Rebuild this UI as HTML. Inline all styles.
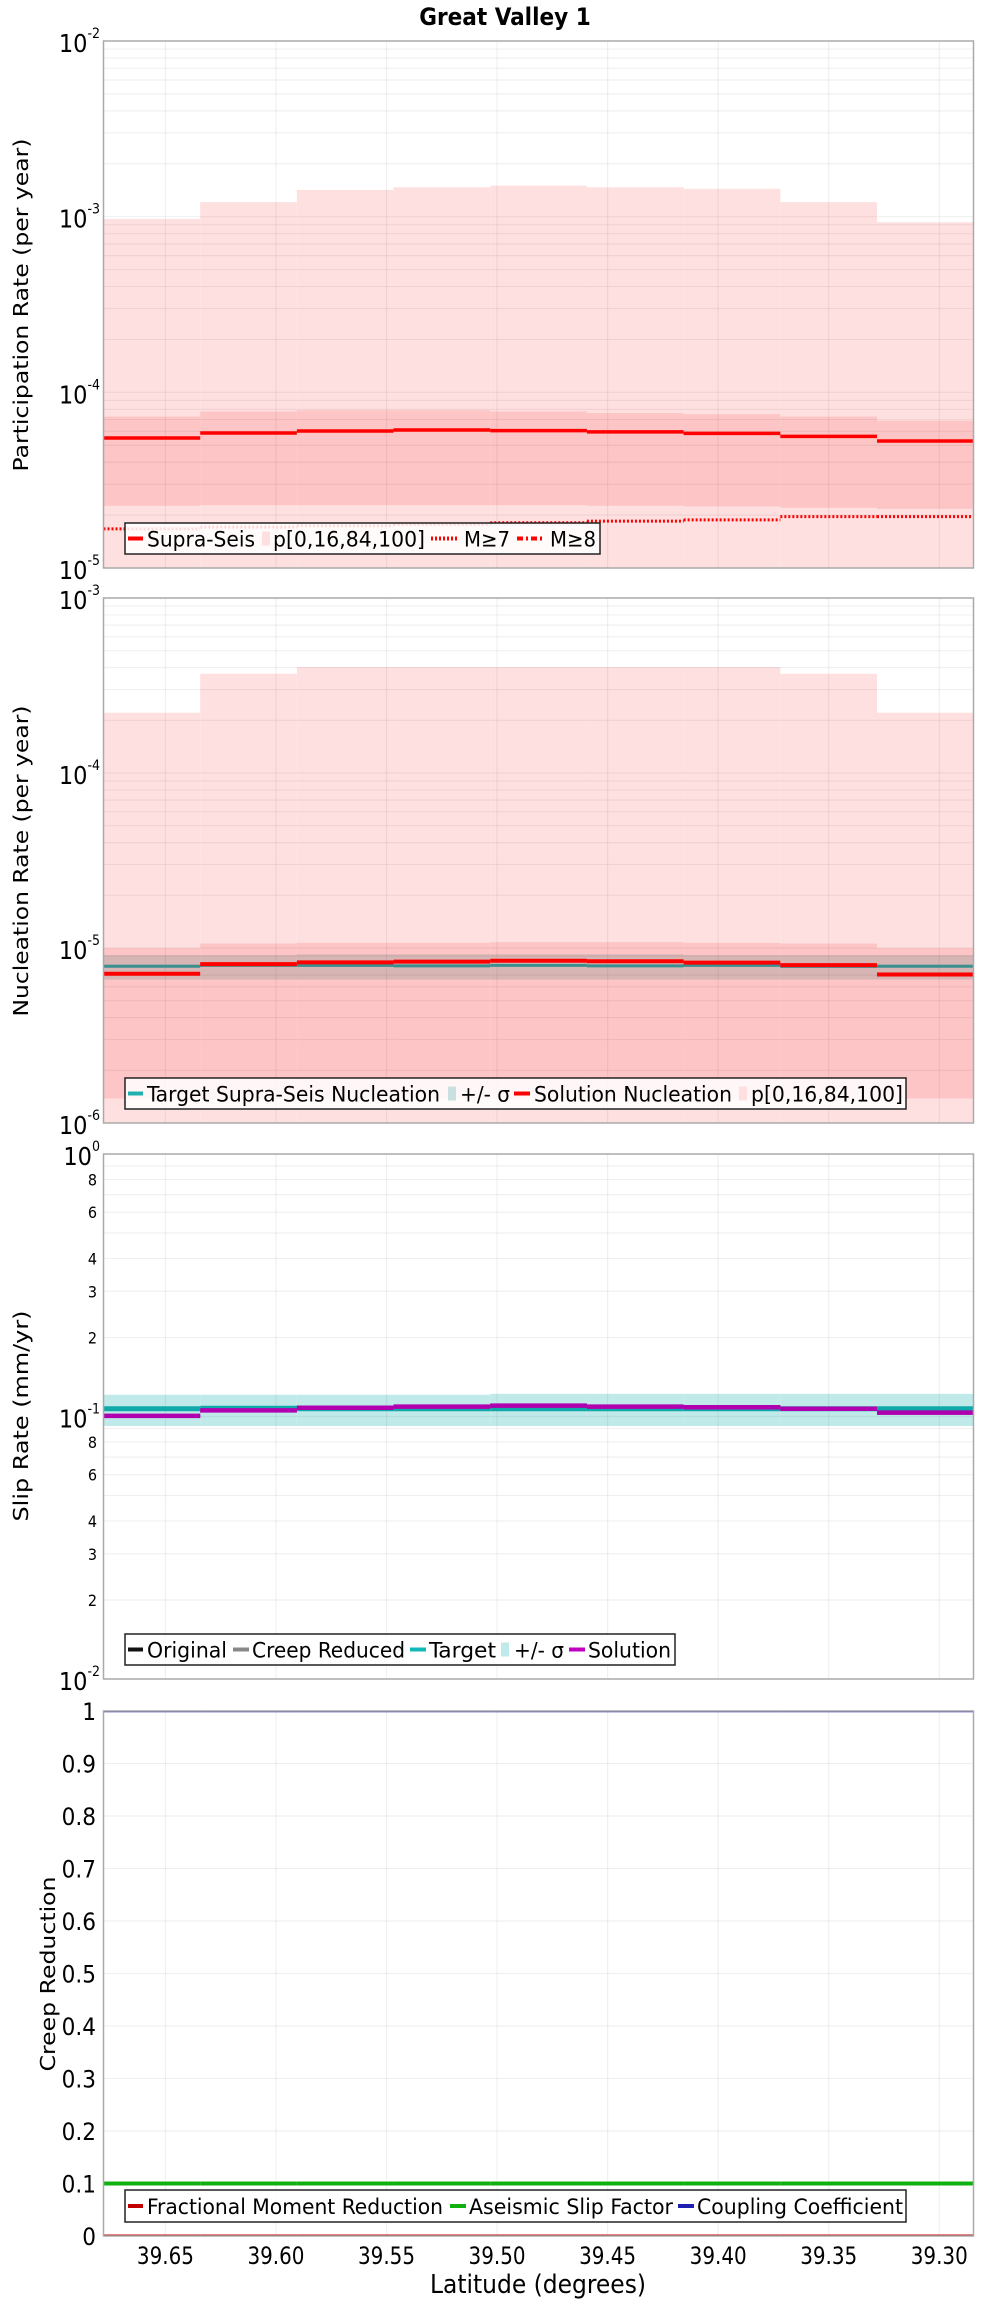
<!DOCTYPE html>
<html><head><meta charset="utf-8"><style>
html,body{margin:0;padding:0;background:#fff;}
svg{display:block;}
text{font-family:"DejaVu Sans Condensed","DejaVu Sans","Liberation Sans",sans-serif;fill:#000;}
.yt{font-family:"DejaVu Sans","Liberation Sans",sans-serif;font-size:20px;}
</style></head><body>
<svg id="chart" width="1000" height="2300" viewBox="0 0 1000 2300" xmlns="http://www.w3.org/2000/svg">
<text x="505" y="25" text-anchor="middle" font-size="24" font-weight="bold">Great Valley 1</text>
</svg>
<script>
// ---- data ----
const binStartLat = 39.678;
const binWidthLat = 0.04373;
const xTicks = [39.65, 39.60, 39.55, 39.50, 39.45, 39.40, 39.35, 39.30];
const xTickLabels = ["39.65","39.60","39.55","39.50","39.45","39.40","39.35","39.30"];
// panel 1 participation
const partMax = [9.7e-4,1.21e-3,1.42e-3,1.47e-3,1.50e-3,1.47e-3,1.44e-3,1.21e-3,9.3e-4];
const partP84 = [7.28e-5,7.78e-5,7.9e-5,7.9e-5,7.78e-5,7.62e-5,7.51e-5,7.28e-5,6.89e-5];
const partP16 = [2.26e-5,2.28e-5,2.28e-5,2.28e-5,2.28e-5,2.26e-5,2.24e-5,2.2e-5,2.17e-5];
const partMin = [5e-6,5e-6,5e-6,5e-6,5e-6,5e-6,5e-6,5e-6,5e-6];
const partSupra = [5.5e-5,5.87e-5,6.02e-5,6.1e-5,6.05e-5,5.96e-5,5.84e-5,5.61e-5,5.28e-5];
const partM7 = [1.67e-5,1.71e-5,1.74e-5,1.77e-5,1.81e-5,1.85e-5,1.88e-5,1.96e-5,1.96e-5];
const partM8 = [3e-6,3e-6,3e-6,3e-6,3e-6,3e-6,3e-6,3e-6,3e-6];
// panel 2 nucleation
const nucMax = [2.21e-4,3.69e-4,4.03e-4,4.03e-4,4.03e-4,4.03e-4,4.03e-4,3.69e-4,2.21e-4];
const nucP84 = [1.0e-5,1.06e-5,1.07e-5,1.07e-5,1.08e-5,1.08e-5,1.07e-5,1.06e-5,1.0e-5];
const nucP16 = [1.38e-6,1.38e-6,1.38e-6,1.38e-6,1.38e-6,1.38e-6,1.38e-6,1.38e-6,1.38e-6];
const nucMin = [5e-7,5e-7,5e-7,5e-7,5e-7,5e-7,5e-7,5e-7,5e-7];
const nucTarget = [7.87e-6,7.95e-6,7.95e-6,7.9e-6,7.95e-6,7.9e-6,7.95e-6,7.85e-6,7.87e-6];
const nucSigHi = [9.1e-6,9.1e-6,9.2e-6,9.2e-6,9.2e-6,9.2e-6,9.1e-6,9.1e-6,9.1e-6];
const nucSigLo = [6.6e-6,6.6e-6,6.6e-6,6.6e-6,6.6e-6,6.6e-6,6.6e-6,6.6e-6,6.6e-6];
const nucSolution = [7.13e-6,8.09e-6,8.28e-6,8.36e-6,8.45e-6,8.4e-6,8.25e-6,7.98e-6,7.06e-6];
// panel 3 slip rate
const slipTarget = [0.107,0.1075,0.107,0.107,0.107,0.107,0.107,0.107,0.107];
const slipSigHi = [0.121,0.121,0.121,0.121,0.122,0.122,0.122,0.122,0.122];
const slipSigLo = [0.092,0.092,0.092,0.092,0.092,0.092,0.092,0.092,0.092];
const slipOriginal = [0.1006,0.1055,0.108,0.109,0.110,0.109,0.1085,0.107,0.1035];
const slipCreep = [0.1006,0.1055,0.108,0.109,0.110,0.109,0.1085,0.107,0.1035];
const slipSolution = [0.1006,0.1055,0.108,0.109,0.110,0.109,0.1085,0.107,0.1035];
// panel 4 creep
const creepFrac = [0,0,0,0,0,0,0,0,0];
const creepAseis = [0.1,0.1,0.1,0.1,0.1,0.1,0.1,0.1,0.1];
const creepCoupling = [1,1,1,1,1,1,1,1,1];

// ---- layout ----
const svg = document.getElementById('chart');
const NS = 'http://www.w3.org/2000/svg';
const L = 103.5, R = 973.5;
const pxPerDeg = 2211;
function xs(lat){ return L + (binStartLat - lat) * pxPerDeg; }
function el(tag, attrs, parent){ const e = document.createElementNS(NS, tag); for (const k in attrs) e.setAttribute(k, attrs[k]); (parent||svg).appendChild(e); return e; }
function logScale(top, bottom, lo, hi){ return v => bottom - (Math.log10(v) - lo) / (hi - lo) * (bottom - top); }
function linScale(top, bottom, lo, hi){ return v => bottom - (v - lo) / (hi - lo) * (bottom - top); }

const panels = [
  {key:'participation', top:41, bottom:568, lo:-5, hi:-2, log:true},
  {key:'nucleation', top:598, bottom:1123, lo:-6, hi:-3, log:true},
  {key:'slip', top:1154, bottom:1679, lo:-2, hi:0, log:true},
  {key:'creep', top:1711, bottom:2236, lo:0, hi:1, log:false}
];
panels.forEach(p => { p.y = p.log ? logScale(p.top,p.bottom,p.lo,p.hi) : linScale(p.top,p.bottom,p.lo,p.hi); });

function binX(i){ return [xs(binStartLat - i*binWidthLat), xs(binStartLat - (i+1)*binWidthLat)]; }

function panelGroup(p){
  const g = el('g', {});
  
  
  const cp = el('clipPath', {id:'clip-'+p.key}, g);
  el('rect', {x:L, y:p.top, width:R-L, height:p.bottom-p.top}, cp);
  el('rect', {x:L, y:p.top, width:R-L, height:p.bottom-p.top, fill:'#fff'}, g);
  const plot = el('g', {'clip-path':'url(#clip-'+p.key+')'}, g);
  p.g = g; p.plot = plot;
  return g;
}
function band(p, lo, hi, fill, name){
  for (let i=0;i<lo.length;i++){
    const [x0,x1] = binX(i);
    const y0 = p.y(hi[i]), y1 = p.y(lo[i]);
    const r = el('rect', {x:x0, y:y0, width:x1-x0, height:y1-y0, fill:fill}, p.plot);
    
    
  }
}
function steps(p, vals, color, w, dash, name){
  for (let i=0;i<vals.length;i++){
    const [x0,x1] = binX(i);
    const yv = p.y(vals[i]);
    const ln = el('line', {x1:x0, x2:x1, y1:yv, y2:yv, stroke:color, 'stroke-width':w}, p.plot);
    if (dash) ln.setAttribute('stroke-dasharray', dash);
    
    
  }
}
function grid(p){
  const gg = el('g', {}, p.plot);
  if (p.log){
    for (let d=p.lo; d<p.hi; d++) for (let m=1;m<=9;m++){
      const yy = p.y(m*Math.pow(10,d));
      el('line', {x1:L, x2:R, y1:yy, y2:yy, stroke:'rgba(0,0,0,0.06)', 'stroke-width':1.2}, gg);
    }
  } else {
    for (let k=1;k<10;k++){ const yy = p.y(k/10); el('line', {x1:L, x2:R, y1:yy, y2:yy, stroke:'rgba(0,0,0,0.06)', 'stroke-width':1.2}, gg); }
  }
  xTicks.forEach(t => { const xx = xs(t); el('line', {x1:xx, x2:xx, y1:p.top, y2:p.bottom, stroke:'rgba(0,0,0,0.06)', 'stroke-width':1.2}, gg); });
}
function frame(p){
  el('rect', {x:L, y:p.top, width:R-L, height:p.bottom-p.top, fill:'none', stroke:'#aaa', 'stroke-width':1.5}, p.g);
}
function decadeLabels(p){
  for (let d=p.lo; d<=p.hi; d++){
    const yy = p.y(Math.pow(10,d));
    const t = el('text', {x:100, y:yy+11, 'text-anchor':'end', 'font-size':25}, p.g);
    
    
    t.appendChild(document.createTextNode('10'));
    const s = el('tspan', {dy:-14, 'font-size':14}, t); s.textContent = String(d);
  }
}
function yTitle(p, txt, cx, cy, len){
  const t = el('text', {class:'yt', x:0, y:0, 'text-anchor':'middle', transform:'translate('+cx+','+cy+') rotate(-90)', textLength:len, lengthAdjust:'spacingAndGlyphs'}, p.g);
  
  
  t.textContent = txt;
}
function legend(p, x, y0, y1, w, items){
  const lg = el('g', {}, p.g);
  
  
  el('rect', {x:x, y:y0, width:w, height:y1-y0, fill:'rgba(255,255,255,0.85)', stroke:'#222', 'stroke-width':1.5}, lg);
  const cy = (y0+y1)/2;
  items.forEach(it => {
    if (it.band){ el('rect', {x:it.sx, y:cy-7, width:8, height:14, fill:it.color}, lg); }
    else {
      const sw = el('line', {x1:it.sx, x2:it.sx+it.sw, y1:cy, y2:cy, stroke:it.color, 'stroke-width':4}, lg);
      if (it.dash) sw.setAttribute('stroke-dasharray', it.dash);
    }
    const t = el('text', {x:it.tx, y:cy+8, 'font-size':21, textLength:it.tl, lengthAdjust:'spacingAndGlyphs'}, lg);
    
    
    t.textContent = it.label;
  });
}

// ---- panel 1 ----
let p = panels[0]; panelGroup(p);
band(p, partMin, partMax, '#ffe0e0', 'participation-p0-100');
band(p, partP16, partP84, '#fdc5c5', 'participation-p16-84');
grid(p);
steps(p, partM8, '#ff0000', 3, '8,3,2,3', 'participation-m8');
steps(p, partM7, '#ff0000', 3, '2,2', 'participation-m7');
steps(p, partSupra, '#ff0000', 3.5, null, 'participation-supra-seis');
frame(p); decadeLabels(p);
yTitle(p, 'Participation Rate (per year)', 28, 305, 333);
legend(p, 125, 523, 554, 475, [
  {sx:128, sw:15, color:'#ff0000', tx:147, tl:108, label:'Supra-Seis'},
  {band:true, sx:262, color:'#ffe0e0', tx:273, tl:152, label:'p[0,16,84,100]'},
  {sx:431, sw:28, color:'#ff0000', dash:'2,2', tx:464, tl:46, label:'M≥7'},
  {sx:517, sw:28, color:'#ff0000', dash:'6,3,2,3', tx:550, tl:46, label:'M≥8'}
]);

// ---- panel 2 ----
p = panels[1]; panelGroup(p);
band(p, nucMin, nucMax, '#ffe0e0', 'nucleation-p0-100');
band(p, nucP16, nucP84, '#fdc5c5', 'nucleation-p16-84');
band(p, nucSigLo, nucSigHi, 'rgba(120,140,140,0.28)', 'nucleation-sigma');
grid(p);
steps(p, nucTarget, '#3a8f8f', 3, null, 'nucleation-target');
steps(p, nucSolution, '#ff0000', 4, null, 'nucleation-solution');
frame(p); decadeLabels(p);
yTitle(p, 'Nucleation Rate (per year)', 28, 861, 311);
legend(p, 125, 1078, 1109, 781, [
  {sx:128, sw:15, color:'#20b0b0', tx:147, tl:293, label:'Target Supra-Seis Nucleation'},
  {band:true, sx:448, color:'#c8e0e0', tx:460, tl:50, label:'+/- σ'},
  {sx:514, sw:16, color:'#ff0000', tx:534, tl:198, label:'Solution Nucleation'},
  {band:true, sx:739, color:'#ffe0e0', tx:751, tl:152, label:'p[0,16,84,100]'}
]);

// ---- panel 3 ----
p = panels[2]; panelGroup(p);
band(p, slipSigLo, slipSigHi, '#c0eaea', 'slip-sigma');
grid(p);
steps(p, slipOriginal, '#222', 4, null, 'slip-original');
steps(p, slipCreep, '#888', 4, null, 'slip-creep-reduced');
steps(p, slipTarget, '#10a8a8', 5, null, 'slip-target');
steps(p, slipSolution, '#b000b0', 4.5, null, 'slip-solution');
frame(p);
for (let d=p.lo; d<=p.hi; d++){
  const yy = p.y(Math.pow(10,d));
  const t = el('text', {x:100, y:yy+11, 'text-anchor':'end', 'font-size':25}, p.g);
  
  
  t.appendChild(document.createTextNode('10'));
  const s = el('tspan', {dy:-14, 'font-size':14}, t); s.textContent = String(d);
}
const minorLbl = [2,3,4,6,8];
for (let d=p.lo; d<p.hi; d++) minorLbl.forEach(m => {
  const yy = p.y(m*Math.pow(10,d));
  const t = el('text', {x:97, y:yy+6, 'text-anchor':'end', 'font-size':16, fill:'#333'}, p.g);
  
  
  t.textContent = String(m);
});
yTitle(p, 'Slip Rate (mm/yr)', 28, 1416, 211);
legend(p, 125, 1634, 1665, 550, [
  {sx:128, sw:15, color:'#111', tx:147, tl:80, label:'Original'},
  {sx:233, sw:16, color:'#888', tx:252, tl:153, label:'Creep Reduced'},
  {sx:410, sw:16, color:'#10b8b8', tx:429, tl:67, label:'Target'},
  {band:true, sx:501, color:'#c0eaea', tx:514, tl:50, label:'+/- σ'},
  {sx:569, sw:16, color:'#c000c0', tx:588, tl:83, label:'Solution'}
]);

// ---- panel 4 ----
p = panels[3]; panelGroup(p);
grid(p);
steps(p, creepFrac, '#c00000', 3, null, 'creep-fractional-moment-reduction');
steps(p, creepAseis, '#10b010', 4, null, 'creep-aseismic-slip-factor');
steps(p, creepCoupling, '#2020b0', 2.5, null, 'creep-coupling-coefficient');
frame(p);
const linTicks = [0,0.1,0.2,0.3,0.4,0.5,0.6,0.7,0.8,0.9,1];
const linTickLabels = ['0','0.1','0.2','0.3','0.4','0.5','0.6','0.7','0.8','0.9','1'];
linTicks.forEach((v,i) => {
  const t = el('text', {x:96, y:p.y(v)+9, 'text-anchor':'end', 'font-size':24}, p.g);
  
  
  t.textContent = linTickLabels[i];
});
yTitle(p, 'Creep Reduction', 55, 1974, 195);
legend(p, 125, 2190, 2222, 781, [
  {sx:128, sw:15, color:'#c00000', tx:147, tl:296, label:'Fractional Moment Reduction'},
  {sx:450, sw:16, color:'#10b010', tx:469, tl:204, label:'Aseismic Slip Factor'},
  {sx:678, sw:16, color:'#2020b0', tx:697, tl:206, label:'Coupling Coefficient'}
]);

// ---- x axis ----
xTicks.forEach((v,i) => {
  const t = el('text', {x:xs(v), y:2264, 'text-anchor':'middle', 'font-size':24, textLength:57, lengthAdjust:'spacingAndGlyphs'});
  
  
  t.textContent = xTickLabels[i];
});
const xt = el('text', {x:538, y:2293, 'text-anchor':'middle', 'font-size':26, textLength:216, lengthAdjust:'spacingAndGlyphs'});


xt.textContent = 'Latitude (degrees)';
</script>
</body></html>
